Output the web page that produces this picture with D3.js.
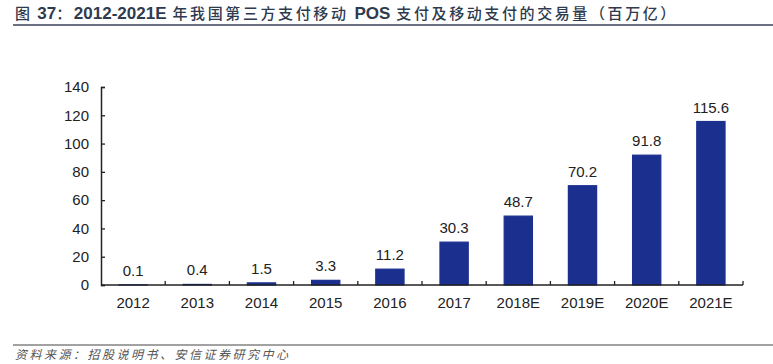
<!DOCTYPE html>
<html>
<head>
<meta charset="utf-8">
<script src="https://cdn.jsdelivr.net/npm/d3@7"></script>
<style>
  body { margin: 0; background: #fff; }
  svg { display: block; }
</style>
</head>
<body>
<div id="chart"></div>
<script>
// data
var years = ["2012", "2013", "2014", "2015", "2016", "2017", "2018E", "2019E", "2020E", "2021E"];
var volumes = [0.1, 0.4, 1.5, 3.3, 11.2, 30.3, 48.7, 70.2, 91.8, 115.6];
var yTicks = [0, 20, 40, 60, 80, 100, 120, 140];

// title pieces: latin bits are bold, chinese bits spaced out
var titleParts = [
    { t: "图", cjk: true },
    { t: " 37", cjk: false },
    { t: "：", cjk: true },
    { t: "2012-2021E", cjk: false },
    { t: " 年我国第三方支付移动 ", cjk: true },
    { t: "POS", cjk: false },
    { t: " 支付及移动支付的交易量（百万亿）", cjk: true }
];
var sourceText = "资料来源：招股说明书、安信证券研究中心";

var W = 773, H = 364;
var barColor = "#1b2f8f";
var inkColor = "#222";

var svg = d3.select("#chart")
    .append("svg")
    .attr("width", W)
    .attr("height", H);

// title + rule under it
svg.append("text")
    .attr("x", 15)
    .attr("y", 19)
    .attr("fill", "#2e3a4e")
    .selectAll("tspan")
    .data(titleParts)
    .enter()
    .append("tspan")
    .attr("font-family", (d) => { return d.cjk ? "'Noto Sans CJK SC', sans-serif" : "'Liberation Sans', Arial, sans-serif"; })
    .attr("font-size", (d) => { return d.cjk ? 15 : 17; })
    .attr("font-weight", (d) => { return d.cjk ? 500 : "bold"; })
    .attr("letter-spacing", (d) => { return d.cjk ? 2.6 : 0; })
    .style("white-space", "pre")
    .text((d) => { return d.t; });

svg.append("line")
    .attr("x1", 13).attr("x2", W)
    .attr("y1", 25).attr("y2", 25)
    .attr("stroke", "#3a4256")
    .attr("stroke-width", 1.5);

// scales
var x = d3.scaleBand()
    .domain(years)
    .range([101, 743])
    .paddingInner(0.56)
    .paddingOuter(0.28);

var y = d3.scaleLinear()
    .domain([0, 140])
    .range([285, 87]);

// bars
svg.append("g")
    .selectAll("rect")
    .data(years)
    .enter()
    .append("rect")
    .attr("x", (d) => { return x(d); })
    .attr("width", x.bandwidth())
    .attr("y", (d, i) => { return y(volumes[i]); })
    .attr("height", (d, i) => { return y(0) - y(volumes[i]); })
    .attr("fill", barColor)
    .attr("stroke", barColor)
    .attr("stroke-width", 1.2);

// value labels
svg.append("g")
    .selectAll("text")
    .data(years)
    .enter()
    .append("text")
    .attr("x", (d) => { return x(d) + x.bandwidth() / 2; })
    .attr("y", (d, i) => { return y(volumes[i]) - 9; })
    .attr("text-anchor", "middle")
    .attr("font-family", "'Liberation Sans', Arial, sans-serif")
    .attr("font-size", 15)
    .attr("fill", inkColor)
    .text((d, i) => { return volumes[i].toFixed(1); });

// y axis, ticks pointing inward
var yAxis = svg.append("g")
    .attr("transform", "translate(101,0)")
    .call(d3.axisLeft(y).tickValues(yTicks).tickSize(-4).tickPadding(12));

// x axis, ticks between categories pointing up
var xAxis = svg.append("g")
    .attr("transform", "translate(0,285)")
    .call(d3.axisBottom(x).tickSize(0).tickPadding(12));

var step = x.step();
var dividers = d3.range(1, years.length + 1).map((i) => { return 101 + i * step; });
svg.append("g")
    .selectAll("line")
    .data(dividers)
    .enter()
    .append("line")
    .attr("x1", (d) => { return d; })
    .attr("x2", (d) => { return d; })
    .attr("y1", 285)
    .attr("y2", 281)
    .attr("stroke", inkColor)
    .attr("stroke-width", 1.3);

[yAxis, xAxis].forEach((g) => {
    g.select(".domain").attr("stroke", inkColor).attr("stroke-width", 1.5);
    g.selectAll(".tick line").attr("stroke", inkColor).attr("stroke-width", 1.3);
    g.selectAll("text")
        .attr("font-family", "'Liberation Sans', Arial, sans-serif")
        .attr("font-size", 15)
        .attr("fill", inkColor);
});
xAxis.select(".domain").attr("d", "M101,0H743");

// source rule + note
svg.append("line")
    .attr("x1", 13).attr("x2", W)
    .attr("y1", 345).attr("y2", 345)
    .attr("stroke", "#444")
    .attr("stroke-width", 1);

svg.append("text")
    .attr("x", 15)
    .attr("y", 359)
    .attr("font-family", "'Noto Sans CJK SC', sans-serif")
    .attr("font-size", 12)
    .attr("font-style", "italic")
    .attr("letter-spacing", 2.5)
    .attr("fill", "#555")
    .text(sourceText);
</script>
</body>
</html>
